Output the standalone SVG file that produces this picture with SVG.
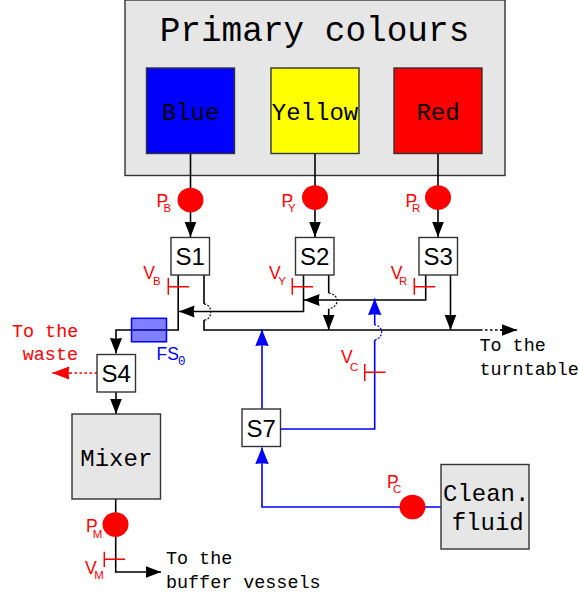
<svg xmlns="http://www.w3.org/2000/svg" width="579" height="596" viewBox="0 0 579 596">
<style>
.box{stroke:#333;stroke-width:1.4}
.grey{fill:#e6e6e6}
.sw{fill:#fff}
.m{font-family:"Liberation Mono",monospace;fill:#000}
.c{text-anchor:middle}
.s{font-family:"Liberation Sans",Arial,sans-serif;font-size:24px;text-anchor:middle;fill:#000}
.t18{font-size:18.4px}
.t24{font-size:24px}
.lb{font-family:"Liberation Sans",Arial,sans-serif;font-size:17.5px;fill:#f00}
.lb tspan{font-size:11.5px}
.pump{fill:#f00}
.k{fill:none;stroke:#000;stroke-width:1.6}
.b{fill:none;stroke:#00f;stroke-width:1.6}
.r{fill:none;stroke:#f00;stroke-width:1.5}
.d{stroke-width:1.2;stroke-dasharray:2 1.5}
.d2{stroke-width:1.5;stroke-dasharray:2.5 2.5}
.ak{marker-end:url(#ak)}
.ab{marker-end:url(#ab)}
.ar{marker-end:url(#ar)}
</style>
<defs>
<marker id="ak" markerUnits="userSpaceOnUse" markerWidth="16" markerHeight="13" viewBox="0 0 16 13" refX="15.5" refY="6.5" orient="auto"><path d="M0 .5L15.500 6.500L0 12.500L.8 6.500Z" fill="#000"/></marker>
<marker id="ab" markerUnits="userSpaceOnUse" markerWidth="17" markerHeight="15" viewBox="0 0 17 15" refX="16.5" refY="7.5" orient="auto"><path d="M0 .8L16.500 7.500L0 14.200L.8 7.500Z" fill="#00f"/></marker>
<marker id="ar" markerUnits="userSpaceOnUse" markerWidth="18" markerHeight="15" viewBox="0 0 18 15" refX="17" refY="7.5" orient="auto"><path d="M0 .8L17 7.500L0 14.200L.8 7.500Z" fill="#f00"/></marker>
</defs>
<g id="primary-colours">
<rect class="box grey" x="125" y="0" width="380" height="175.500"/>
<text class="m c" x="314.500" y="41" font-size="34.400">Primary colours</text>
</g>
<g id="connectors">
<path class="k ak" d="M190.500 153.500V237"/>
<path class="k ak" d="M315 153.500V237"/>
<path class="k ak" d="M438 153.500V237"/>
<path class="k ak" d="M178.200 275V330H116V353.500"/>
<path class="k" d="M204 275V304"/>
<path class="k d" d="M204 304C213 304 213 320 204 320"/>
<path class="k" d="M204 320V330H480"/>
<path class="k d2" d="M480 330H503"/>
<path class="k ak" d="M500 330H517"/>
<path class="k ak" d="M303.500 275V311.500H179"/>
<path class="k" d="M328.700 275V293"/>
<path class="k d" d="M328.700 293C340 295 340 306 328.700 309"/>
<path class="k ak" d="M328.700 309V330"/>
<path class="k ak" d="M425.700 275V300H304"/>
<path class="k ak" d="M450.500 275V330"/>
<path class="k ak" d="M116 392V414"/>
<path class="k ak" d="M115.700 499V572H161"/>
<path class="r d2" d="M97 373H67"/>
<path class="r ar" d="M70 373H52.300"/>
<path class="b ab" d="M262 409V329.500"/>
<path class="b" d="M280.500 429H374.700V340"/>
<path class="b d" d="M374.700 340C384 338 384 326 374.700 325"/>
<path class="b ab" d="M374.700 325V298.500"/>
<path class="b ab" d="M441 507H262V447.500"/>
<path class="r" d="M168.300 278V294.700M168.300 286.700H189"/>
<path class="r" d="M292.300 278V294.700M292.300 286.700H313"/>
<path class="r" d="M414.300 278V294.700M414.300 286.700H435"/>
<path class="r" d="M364.700 364V381M364.700 372.300H385.500"/>
<path class="r" d="M104.300 551.700V567M104.300 559.300H125"/>
</g>
<g id="blue"><rect class="box" x="146.500" y="68" width="88" height="85.500" fill="#00f"/><text class="m c t24" x="190.500" y="120">Blue</text></g>
<g id="yellow"><rect class="box" x="271" y="68" width="88" height="85.500" fill="#ff0"/><text class="m c t24" x="315" y="120">Yellow</text></g>
<g id="red"><rect class="box" x="394" y="68" width="88" height="85.500" fill="#f00"/><text class="m c t24" x="438" y="120">Red</text></g>
<g id="pump-b"><ellipse class="pump" cx="190.500" cy="200" rx="13" ry="12.300"/><text class="lb" x="156.500" y="206.500">P<tspan x="163.500" y="212">B</tspan></text></g>
<g id="pump-y"><ellipse class="pump" cx="315" cy="197.500" rx="13" ry="12.300"/><text class="lb" x="281.500" y="206.500">P<tspan x="288" y="212">Y</tspan></text></g>
<g id="pump-r"><ellipse class="pump" cx="438" cy="197.500" rx="13" ry="12.300"/><text class="lb" x="405.500" y="206.500">P<tspan x="412" y="212">R</tspan></text></g>
<g id="s1"><rect class="box sw" x="171" y="237.500" width="38.500" height="37.500"/><text class="s" x="190.300" y="265">S1</text></g>
<g id="s2"><rect class="box sw" x="295.500" y="237.500" width="38.500" height="37.500"/><text class="s" x="314.800" y="265">S2</text></g>
<g id="s3"><rect class="box sw" x="419" y="237.500" width="38.500" height="37.500"/><text class="s" x="438.300" y="265">S3</text></g>
<g id="s4"><rect class="box sw" x="97" y="354.500" width="38.500" height="37.500"/><text class="s" x="116.300" y="382">S4</text></g>
<g id="s7"><rect class="box sw" x="242" y="409" width="38.500" height="37.500"/><text class="s" x="261.300" y="437">S7</text></g>
<g id="valve-labels">
<text class="lb" x="143.300" y="278.500">V<tspan x="153" y="285">B</tspan></text>
<text class="lb" x="269" y="278.500">V<tspan x="278.300" y="285">Y</tspan></text>
<text class="lb" x="390.700" y="278.500">V<tspan x="399" y="285">R</tspan></text>
<text class="lb" x="341" y="363">V<tspan x="350" y="371">C</tspan></text>
<text class="lb" x="85" y="574">V<tspan x="94.300" y="579">M</tspan></text>
</g>
<g id="fs0"><rect x="131.500" y="318.300" width="35" height="23.500" fill="#00f" fill-opacity=".5" stroke="#00f" stroke-width="1.500"/><text font-family="Liberation Sans,Arial,sans-serif" font-size="17.500" fill="#00f" x="156.500" y="360">FS<tspan font-family="Liberation Mono,monospace" font-size="12.500" x="178" y="365">0</tspan></text></g>
<g id="mixer"><rect class="box grey" x="72" y="414" width="88.500" height="85"/><text class="m c t24" x="116.300" y="466">Mixer</text></g>
<g id="pump-m"><ellipse class="pump" cx="115.500" cy="524.500" rx="13" ry="12.300"/><text class="lb" x="86" y="532">P<tspan x="92.700" y="538">M</tspan></text></g>
<g id="pump-c"><ellipse class="pump" cx="412.500" cy="507" rx="13" ry="12.300"/><text class="lb" x="387" y="487.500">P<tspan x="393" y="492.500">C</tspan></text></g>
<g id="cleaning-fluid"><rect class="box grey" x="441" y="464.500" width="88" height="84.500"/><text class="m t24" x="443" y="500.500">Clean.</text><text class="m t24" x="451.700" y="530">fluid</text></g>
<g id="labels">
<text class="m t18" style="fill:#f00" x="12" y="337">To the</text>
<text class="m t18" style="fill:#f00" x="22.800" y="360">waste</text>
<text class="m t18" x="479.500" y="351">To the</text>
<text class="m t18" x="479.500" y="375">turntable</text>
<text class="m t18" x="166" y="564">To the</text>
<text class="m t18" x="166" y="588">buffer vessels</text>
</g>
</svg>
